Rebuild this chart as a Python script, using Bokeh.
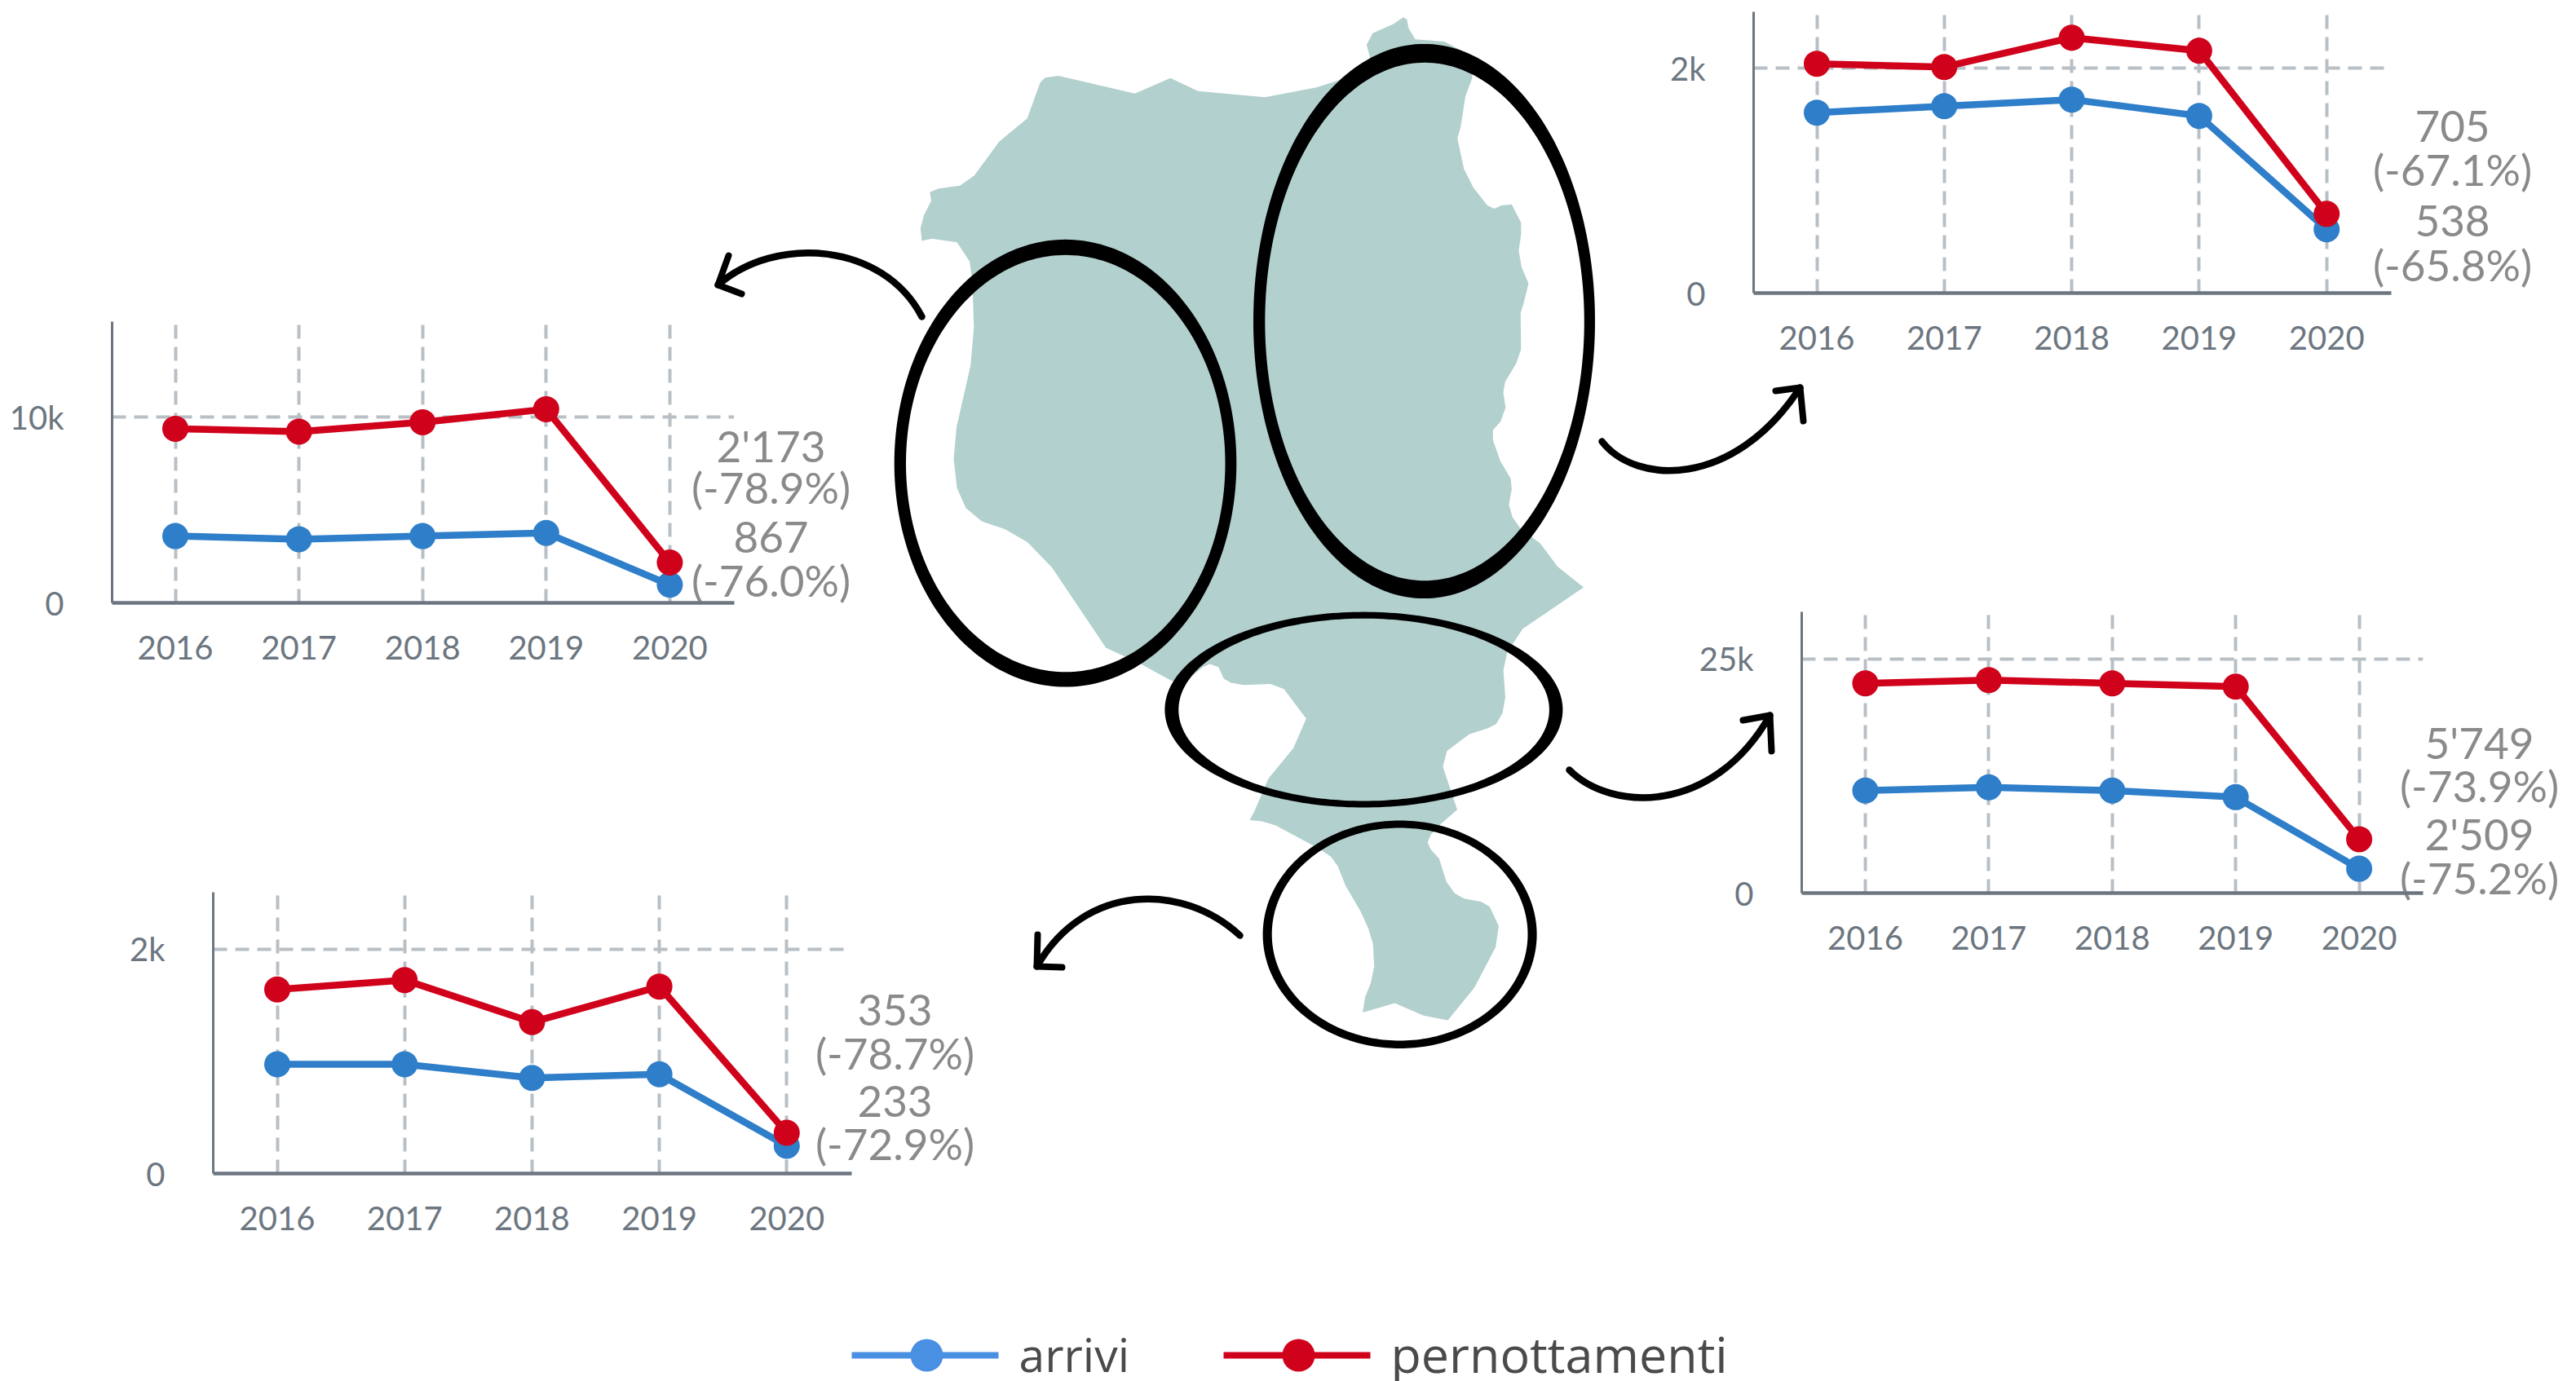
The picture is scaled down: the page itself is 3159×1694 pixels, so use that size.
from bokeh.plotting import figure
from bokeh.embed import file_html
from bokeh.resources import INLINE
from bokeh.models import FixedTicker, Range1d
from bokeh.core.properties import value
import numpy as np

YEARS = [2016, 2017, 2018, 2019, 2020]

# west chart
W_ARRIVI = [3600, 3430, 3600, 3770, 975]
W_PERNOTT = [9385, 9230, 9735, 10440, 2173]
W_NOTES = ["2'173", "(-78.9%)", "867", "(-76.0%)"]
# north-east chart
N_ARRIVI = [1606, 1664, 1722, 1577, 568]
N_PERNOTT = [2041, 2012, 2273, 2157, 705]
N_NOTES = ["705", "(-67.1%)", "538", "(-65.8%)"]
# central chart
C_ARRIVI = [10940, 11290, 10940, 10240, 2600]
C_PERNOTT = [22390, 22740, 22390, 22040, 5749]
C_NOTES = ["5'749", "(-73.9%)", "2'509", "(-75.2%)"]
# south chart
S_ARRIVI = [973, 973, 852, 884, 247]
S_PERNOTT = [1640, 1724, 1349, 1666, 363]
S_NOTES = ["353", "(-78.7%)", "233", "(-72.9%)"]

LEGEND_LABELS = ["arrivi", "pernottamenti"]

# Map outline, in page pixels
MAP_Z2 = [(1150,36),(1158,40),(1162,60),(1176,83),(1238,88),(1262,100),(1290,115),(1298,165),(1283,205),(1273,270),
 (1266,295),(1280,360),(1300,400),(1330,438),(1345,445),(1360,438),(1382,436),(1402,475),(1402,500),(1397,535),
 (1403,570),(1418,605),(1408,645),(1401,668),(1402,745),(1392,775),(1368,815),(1364,838),(1369,870),(1358,900),
 (1342,918),(1342,940),(1358,985),(1380,1022),(1382,1045),(1376,1078),(1384,1105),(1402,1130),(1422,1145),
 (1443,1160),(1480,1210)]
MAP_Z3 = [(1415,52),(1220,185),(1170,260),(1158,318),(1164,405),(1155,455),(1135,490),(1110,503),(1048,523),(977,577),
 (964,627),(1010,765),(958,810),(925,845),(915,870),(925,892),(952,922),(975,995),(1002,1033),(1032,1050),
 (1088,1060),(1114,1076),(1143,1138),(1133,1205),(1065,1335),(980,1440),(902,1425),(810,1385),(707,1415),(715,1365),
 (733,1320),(744,1267),(740,1195),(725,1145),(700,1090),(652,1008),(627,945),(605,915),(575,895),(545,878),
 (428,815),(385,802),(345,798),(360,770),(405,665),(485,568),(526,473),(455,378),(412,362),(325,365),
 (285,358),(262,345),(245,308),(217,298),(195,308),(150,345),(95,352)]
MAP_Z2B = [(590,1418),(515,1383),(400,1212),(348,1158),(300,1130),(250,1113),(216,1085),(197,1042),(190,980),(196,912),
 (226,780),(233,700),(230,600),(224,558),(197,517),(143,509),(122,514),(119,487),(126,460),(142,428),(139,410),
 (158,402),(203,396),(234,374),(287,302),(347,252),(375,175),(385,165),(414,161),(577,199),(653,166),(712,194),
 (855,207),(965,186),(1015,170),(1080,125),(1072,95),(1085,70),(1130,50)]
map_x = [1060 + a / 1.742 for a, b in MAP_Z2] + [1400 + a / 2.613 for a, b in MAP_Z3] + [1060 + a / 1.742 for a, b in MAP_Z2B]
map_y = [b / 1.742 for a, b in MAP_Z2] + [700 + b / 2.613 for a, b in MAP_Z3] + [b / 1.742 for a, b in MAP_Z2B]

AXIS = "#6c7680"
GRID = "#b8bfc5"
NOTE = "#8a8a8a"
BLUE = "#2e7ec9"
RED = "#d0021b"
FONT = "Lato"

main = figure(width=3159, height=1694, x_range=Range1d(0, 3159), y_range=Range1d(1694, 0),
              x_axis_type=None, y_axis_type=None, toolbar_location=None, output_backend="svg",
              min_border=0, outline_line_color=None, background_fill_color=None, border_fill_color=None,
              styles={"position": "absolute", "left": "0px", "top": "0px"})
main.grid.visible = False
main.patch(map_x, map_y, fill_color="#b2d0cd", line_color=None)


def ring(ox0, ox1, oy0, oy1, ix0, ix1, iy0, iy1):
    t = np.linspace(0, 2 * np.pi, 241)
    ox = (ox0 + ox1) / 2 + (ox1 - ox0) / 2 * np.cos(t)
    oy = (oy0 + oy1) / 2 + (oy1 - oy0) / 2 * np.sin(t)
    ix = (ix0 + ix1) / 2 + (ix1 - ix0) / 2 * np.cos(t)
    iy = (iy0 + iy1) / 2 + (iy1 - iy0) / 2 * np.sin(t)
    main.multi_polygons(xs=[[[list(ox), list(ix)]]], ys=[[[list(oy), list(iy)]]],
                        fill_color="black", line_color=None)


ring(1536.5, 1955.5, 53.4, 733.6, 1550.8, 1942.3, 76.3, 711.8)
ring(1096.2, 1515.8, 293.3, 842.1, 1110.5, 1502, 312.3, 823.8)
ring(1427.9, 1915.9, 750.1, 990, 1444.8, 1899.4, 758.2, 982)
ring(1548.1, 1884.1, 1006, 1285.5, 1559.2, 1873, 1015, 1276)


def arrow(p0, c0, c1, p1, b0, b1):
    main.bezier(x0=[p0[0]], y0=[p0[1]], x1=[p1[0]], y1=[p1[1]], cx0=[c0[0]], cy0=[c0[1]],
                cx1=[c1[0]], cy1=[c1[1]], line_color="black", line_width=8.5, line_cap="round")
    main.line([b0[0], p1[0], b1[0]], [b0[1], p1[1], b1[1]], line_color="black", line_width=8,
              line_cap="round", line_join="round")


arrow((1130, 388), (1082, 296), (950, 288), (880, 349), (893, 313), (909, 360))
arrow((1964, 541), (2005, 594), (2125, 600), (2207, 475), (2177, 479), (2211, 516))
arrow((1924, 944), (1975, 995), (2100, 1000), (2170, 877), (2137, 883), (2172, 921))
arrow((1520, 1147), (1450, 1082), (1330, 1082), (1271, 1185), (1272, 1146), (1302, 1186))


def note(cx, ys, texts):
    main.text(x=[cx] * 4, y=ys, text=texts, text_font=value(FONT), text_font_size="53px",
              text_color=NOTE, text_align="center", text_baseline="middle")


note(945, [546, 597, 658, 711], W_NOTES)
note(3007, [154, 207, 270, 324], N_NOTES)
note(3040, [910, 963, 1022, 1076], C_NOTES)
note(1097, [1238, 1291, 1350, 1402], S_NOTES)

# legend
main.line([1044, 1224], [1662, 1662], line_color="#4a90e2", line_width=8)
main.scatter([1136], [1662], size=40, fill_color="#4a90e2", line_color=None)
main.line([1500, 1680], [1662, 1662], line_color=RED, line_width=8)
main.scatter([1592], [1662], size=40, fill_color=RED, line_color=None)
main.text(x=[1249], y=[1660], text=LEGEND_LABELS[:1], text_font=value("Open Sans"), text_font_size="57px",
          text_color="#4a4a4a", text_align="left", text_baseline="middle")
main.text(x=[1705], y=[1660], text=LEGEND_LABELS[1:], text_font=value("Open Sans"), text_font_size="61px",
          text_color="#4a4a4a", text_align="left", text_baseline="middle")


def chart(ax_x, top, ax_y, right, x2016, step, ymax, ytick, ylabel, arrivi, pernott):
    pad_l, pad_b, pad_t, pad_r = 140, 100, 4, 6
    fw, fh = right - ax_x, ax_y - top
    xl = 2016 - (x2016 - ax_x) / step
    xr = xl + fw / step
    p = figure(frame_width=fw, frame_height=fh, x_range=Range1d(xl, xr), y_range=Range1d(0, ymax),
               toolbar_location=None, output_backend="svg", outline_line_color=None,
               background_fill_color=None, border_fill_color=None,
               min_border_left=pad_l, min_border_bottom=pad_b, min_border_top=pad_t, min_border_right=pad_r,
               styles={"position": "absolute", "left": f"{ax_x - pad_l}px", "top": f"{top - pad_t}px"})
    p.xaxis.ticker = FixedTicker(ticks=YEARS)
    p.yaxis.ticker = FixedTicker(ticks=[0, ytick])
    p.yaxis.major_label_overrides = {0: "0", ytick: ylabel}
    p.xaxis.major_label_overrides = {y: str(y) for y in YEARS}
    for ax, w in ((p.xaxis, 4.5), (p.yaxis, 3)):
        ax.axis_line_color = AXIS
        ax.axis_line_width = w
        ax.major_tick_line_color = None
        ax.minor_tick_line_color = None
        ax.major_tick_in = 0
        ax.major_tick_out = 0
        ax.major_label_text_font = FONT
        ax.major_label_text_font_size = "40px"
        ax.major_label_text_color = AXIS
    p.xaxis.major_label_standoff = 40
    p.yaxis.major_label_standoff = 59
    p.xgrid.ticker = FixedTicker(ticks=YEARS)
    p.ygrid.ticker = FixedTicker(ticks=[ytick])
    for g in (p.xgrid, p.ygrid):
        g.grid_line_color = GRID
        g.grid_line_width = 4
        g.grid_line_dash = "17 10"
    p.line(YEARS, arrivi, line_color=BLUE, line_width=8.5)
    p.scatter(YEARS, arrivi, size=32, fill_color=BLUE, line_color=None)
    p.line(YEARS, pernott, line_color=RED, line_width=8.5)
    p.scatter(YEARS, pernott, size=32, fill_color=RED, line_color=None)
    return p


c1 = chart(137, 394, 739, 900, 214.5, 151.6, 15158, 10000, "10k", W_ARRIVI, W_PERNOTT)
c2 = chart(2150, 14, 359, 2932, 2227.5, 156.3, 2503, 2000, "2k", N_ARRIVI, N_PERNOTT)
c3 = chart(2209, 750, 1095, 2971, 2287, 151.4, 30020, 25000, "25k", C_ARRIVI, C_PERNOTT)
c4 = chart(261, 1094, 1439, 1044, 339.5, 156.2, 2506, 2000, "2k", S_ARRIVI, S_PERNOTT)

open("out.html", "w").write(file_html([main, c1, c2, c3, c4], INLINE))
